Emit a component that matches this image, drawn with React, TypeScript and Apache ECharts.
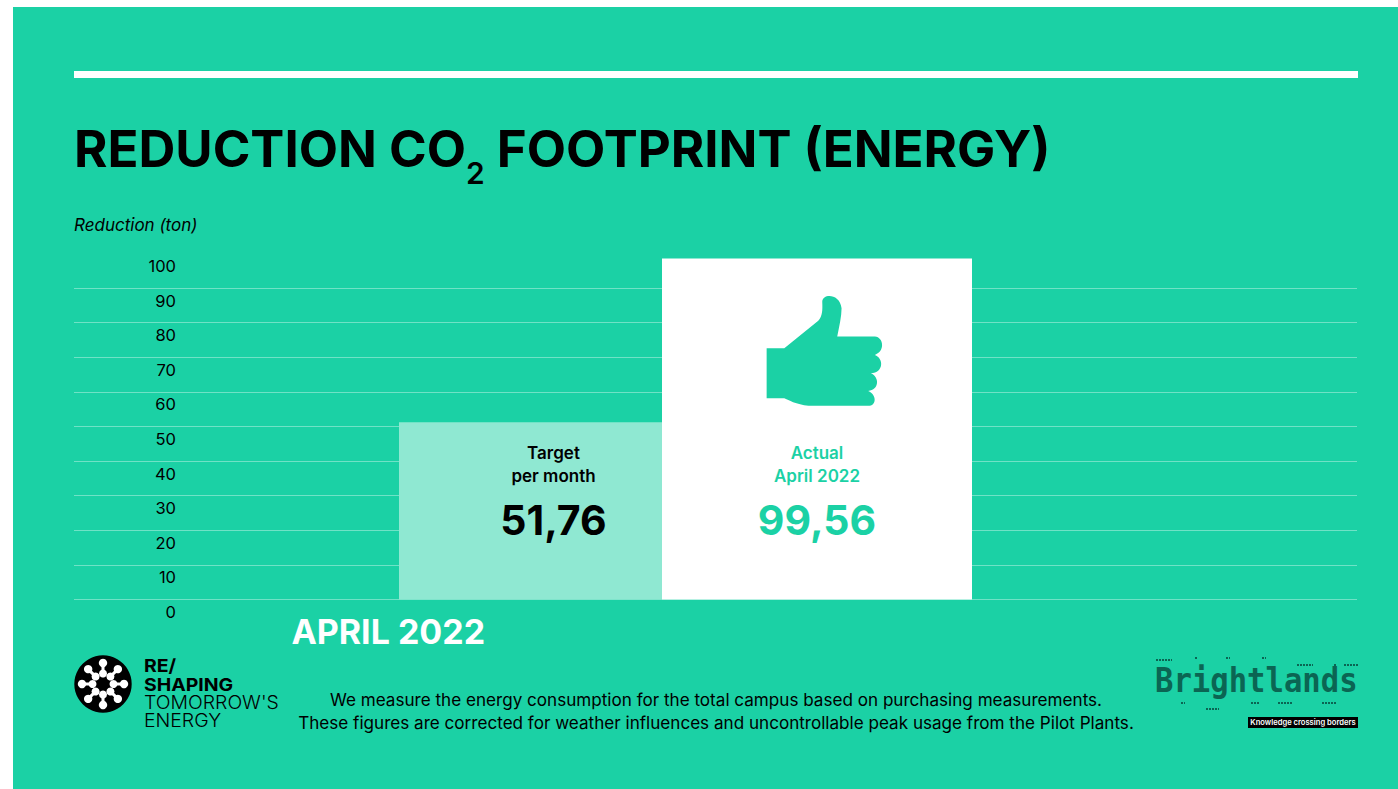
import React, { useEffect, useRef } from "react";
import * as echarts from "echarts";

const FONT = "Inter";
const GREEN = "#1BD1A5";
const PALE = "#8FE8D2";
const DOTS = "#0B6553";

const categories = ["APRIL 2022", ""];
const barCategory = ["APRIL 2022"];
const targetValues = [51.76];
const actualValues = [99.56];
const targetLabel = ["Target", "per month"];
const actualLabel = ["Actual", "April 2022"];
const yMin = 0;
const yMax = 100;
const yStep = 10;
const title = "REDUCTION CO{sub|2} FOOTPRINT (ENERGY)";
const yName = "Reduction (ton)";
const note = [
  "We measure the energy consumption for the total campus based on purchasing measurements.",
  "These figures are corrected for weather influences and uncontrollable peak usage from the Pilot Plants.",
];

const THUMB =
  "M80 205 L133 205 L235 122 C248 108 248 90 247 65 C248 40 300 40 305 85 C305 110 298 140 292 170 L405 170 C432 172 436 215 405 225 C432 235 432 278 393 280 C420 292 418 330 385 333 C412 345 410 378 385 378 L220 378 C180 378 155 365 133 355 L80 355 Z";
echarts.graphic.registerShape("thumb", echarts.graphic.extendPath(THUMB, {}));

const commaFmt = (v: number) => v.toFixed(2).replace(".", ",");

function logoSpokes() {
  const cx = 103;
  const cy = 684;
  const out: any[] = [{ type: "circle", shape: { cx, cy, r: 28.7 }, style: { fill: "#000" } }];
  for (let i = 0; i < 8; i++) {
    const a = (i * Math.PI) / 4;
    const c = Math.cos(a);
    const s = Math.sin(a);
    out.push({
      type: "line",
      shape: { x1: cx + 10.5 * c, y1: cy + 10.5 * s, x2: cx + 21 * c, y2: cy + 21 * s },
      style: { stroke: "#fff", lineWidth: 3 },
    });
    out.push({ type: "circle", shape: { cx: cx + 10.5 * c, cy: cy + 10.5 * s, r: 4 }, style: { fill: "#fff" } });
    out.push({ type: "circle", shape: { cx: cx + 21 * c, cy: cy + 21 * s, r: 4.2 }, style: { fill: "#fff" } });
  }
  return out;
}

const dashes: [number, number, number][] = [
  [1156, 1172, 660], [1195, 1198, 658], [1226, 1230, 658], [1262, 1266, 658],
  [1297, 1313, 665], [1334, 1337, 665], [1344, 1358, 665],
  [1181, 1185, 703], [1251, 1259, 703], [1278, 1293, 703], [1322, 1337, 703], [1206, 1219, 709],
];

function barLabel(lines: string[], value: number, distance: number, offset: number[], color: string, numSize: number) {
  return {
    show: true,
    position: "insideTop",
    distance,
    offset,
    formatter: () => `${lines.map((l) => `{a|${l}}`).join("\n")}\n{b|${commaFmt(value)}}`,
    rich: {
      a: { fontFamily: FONT, fontSize: 17, fontWeight: 600, color, lineHeight: 23, align: "center" },
      b: { fontFamily: FONT, fontSize: numSize, fontWeight: 700, color, lineHeight: 65, align: "center" },
    },
  };
}

const wordmark = [
  { text: "RE/", weight: 700, y: 666 },
  { text: "SHAPING", weight: 700, y: 684.3 },
  { text: "TOMORROW'S", weight: 300, y: 702.6 },
  { text: "ENERGY", weight: 300, y: 720.9 },
];

export default function App() {
  const ref = useRef<HTMLDivElement>(null);
  useEffect(() => {
    document.body.style.margin = "0";
    const chart = echarts.init(ref.current!, undefined, { renderer: "svg" });
    chart.setOption({
      animation: false,
      backgroundColor: "#fff",
      title: {
        text: title,
        left: 74,
        top: 108,
        padding: 0,
        textStyle: {
          fontFamily: FONT,
          fontSize: 51,
          fontWeight: 700,
          color: "#000",
          lineHeight: 60,
          rich: {
            sub: { fontFamily: FONT, fontSize: 30, fontWeight: 600, color: "#000", lineHeight: 80, verticalAlign: "bottom" },
          },
        },
      },
      grid: [
        { left: 74, top: 253.5, width: 1283, height: 346 },
        { left: 399, top: 253.5, width: 573, height: 346 },
      ],
      xAxis: [
        {
          type: "category",
          gridIndex: 0,
          data: categories,
          axisLine: { show: false },
          axisTick: { show: false },
          axisLabel: {
            color: "#fff",
            fontFamily: FONT,
            fontSize: 34,
            fontWeight: 700,
            margin: 15,
            padding: [0, 13, 0, 0],
          },
        },
        { type: "category", gridIndex: 1, data: barCategory, show: false },
      ],
      yAxis: [
        {
          type: "value",
          gridIndex: 0,
          min: yMin,
          max: yMax,
          interval: yStep,
          name: yName,
          nameLocation: "end",
          nameGap: 20,
          nameTextStyle: { fontFamily: FONT, fontSize: 17, fontStyle: "italic", color: "#000", align: "left" },
          axisLine: { show: false },
          axisTick: { show: false },
          axisLabel: {
            inside: true,
            align: "right",
            margin: 102,
            verticalAlign: "top",
            padding: [4, 0, 0, 0],
            fontFamily: FONT,
            fontSize: 16.5,
            color: "#000",
          },
          splitLine: { show: true, showMaxLine: false, lineStyle: { color: "#6FE2C6", width: 1 } },
        },
        // the reference draws its bars on a marginally tighter scale than its gridlines
        { type: "value", gridIndex: 1, min: yMin, max: 101, show: false, splitLine: { show: false } },
      ],
      series: [
        {
          type: "bar",
          name: "Target",
          xAxisIndex: 1,
          yAxisIndex: 1,
          barWidth: 263,
          barGap: 0,
          data: targetValues,
          itemStyle: { color: PALE },
          label: barLabel(targetLabel, targetValues[0], 19, [23, 0], "#000", 41),
          z: 3,
        },
        {
          type: "bar",
          name: "Actual",
          xAxisIndex: 1,
          yAxisIndex: 1,
          barWidth: 310,
          barGap: 0,
          data: actualValues,
          itemStyle: { color: "#fff" },
          label: barLabel(actualLabel, actualValues[0], 183, [0, 0], GREEN, 41),
          z: 3,
        },
      ],
      graphic: [
        { type: "rect", z: -10, shape: { x: 13, y: 7, width: 1385, height: 782 }, style: { fill: GREEN } },
        { type: "rect", z: 1, shape: { x: 74, y: 71, width: 1284, height: 7 }, style: { fill: "#fff" } },
        { type: "thumb", x: 740, y: 280, scaleX: 1 / 3, scaleY: 1 / 3, z: 10, style: { fill: GREEN } },
        { type: "group", z: 1, children: logoSpokes() },
        ...wordmark.map((w) => ({
          type: "text",
          z: 1,
          x: 144,
          y: w.y,
          scaleX: 1.08,
          style: { text: w.text, fontFamily: FONT, fontSize: 18, fontWeight: w.weight, fill: "#000", verticalAlign: "middle" },
        })),
        { type: "text", z: 1, x: 716, y: 699, style: { text: note[0], fontFamily: FONT, fontSize: 17.1, fill: "#000", align: "center", verticalAlign: "middle" } },
        { type: "text", z: 1, x: 716, y: 722, style: { text: note[1], fontFamily: FONT, fontSize: 17.1, fill: "#000", align: "center", verticalAlign: "middle" } },
        { type: "text", z: 1, x: 1155, y: 680, scaleX: 0.9, style: { text: "Brightlands", fontFamily: "DejaVu Sans Mono", fontSize: 34, fontWeight: 700, fill: DOTS, verticalAlign: "middle" } },
        ...dashes.map(([x1, x2, y]) => ({
          type: "line",
          z: 1,
          shape: { x1, y1: y, x2, y2: y },
          style: { stroke: DOTS, lineWidth: 2, lineDash: [2, 1] },
        })),
        { type: "rect", z: 1, shape: { x: 1248, y: 717, width: 110, height: 11 }, style: { fill: "#000" } },
        { type: "text", z: 2, x: 1303, y: 722.5, style: { text: "Knowledge crossing borders", fontFamily: FONT, fontSize: 7.6, fontWeight: 600, fill: "#fff", align: "center", verticalAlign: "middle" } },
      ],
    });
    return () => chart.dispose();
  }, []);
  return <div ref={ref} style={{ position: "absolute", left: 0, top: 0, width: 1398, height: 789 }} />;
}
